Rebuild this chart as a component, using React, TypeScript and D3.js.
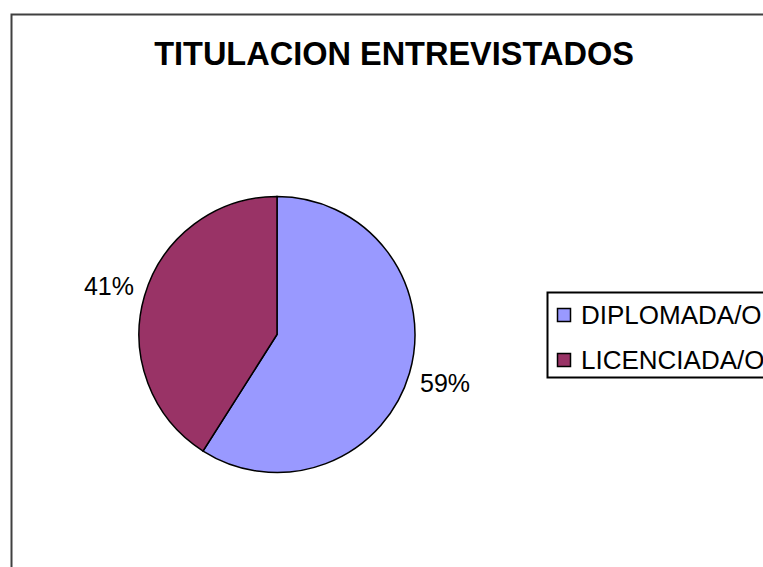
import * as d3 from "d3";

const categories = ["DIPLOMADA/O", "LICENCIADA/O"];
const values = [59, 41];
const colors = ["#9999FF", "#993366"];
const title = "TITULACION ENTREVISTADOS";

const width = 763;
const height = 567;
const font = "'Liberation Sans', Arial, sans-serif";

export default function App() {
	const cx = 277;
	const cy = 334.5;
	const radius = 138;
	const labelRadius = 175;

	const pie = d3
		.pie<number>()
		.sort(null)
		.value((d) => d);
	const arcs = pie(values);
	const arc = d3.arc<d3.PieArcDatum<number>>().innerRadius(0).outerRadius(radius);
	const labelArc = d3
		.arc<d3.PieArcDatum<number>>()
		.innerRadius(labelRadius)
		.outerRadius(labelRadius);
	const total = d3.sum(values);

	// legend rows
	const legendY = d3.scalePoint<string>().domain(categories).range([315, 360]);

	return (
		<svg
			width={width}
			height={height}
			style={{ position: "absolute", left: 0, top: 0, background: "#fff" }}
			fontFamily={font}
		>
			<rect x={11.5} y={14.5} width={800} height={600} fill="#fff" stroke="#404040" strokeWidth={2} />
			<text
				x={394}
				y={65}
				textAnchor="middle"
				fontSize={32.5}
				fontWeight="bold"
				fill="#000"
			>
				{title}
			</text>
			<g transform={`translate(${cx},${cy})`}>
				{arcs.map((a, i) => (
					<path key={i} d={arc(a) ?? ""} fill={colors[i]} stroke="#000" strokeWidth={1.5} />
				))}
				{arcs.map((a, i) => {
					const [x, y] = labelArc.centroid(a);
					return (
						<text
							key={`l${i}`}
							x={x}
							y={y}
							textAnchor="middle"
							dominantBaseline="central"
							fontSize={25}
							fill="#000"
						>
							{`${Math.round((a.data / total) * 100)}%`}
						</text>
					);
				})}
			</g>
			<rect x={547.5} y={292.5} width={300} height={85} fill="#fff" stroke="#000" strokeWidth={2} />
			{categories.map((c, i) => {
				const y = legendY(c) ?? 0;
				return (
					<g key={c}>
						<rect x={557.5} y={y - 6.5} width={13} height={13} fill={colors[i]} stroke="#000" strokeWidth={1.5} />
						<text x={581} y={y} dominantBaseline="central" fontSize={26} fill="#000">
							{c}
						</text>
					</g>
				);
			})}
		</svg>
	);
}
